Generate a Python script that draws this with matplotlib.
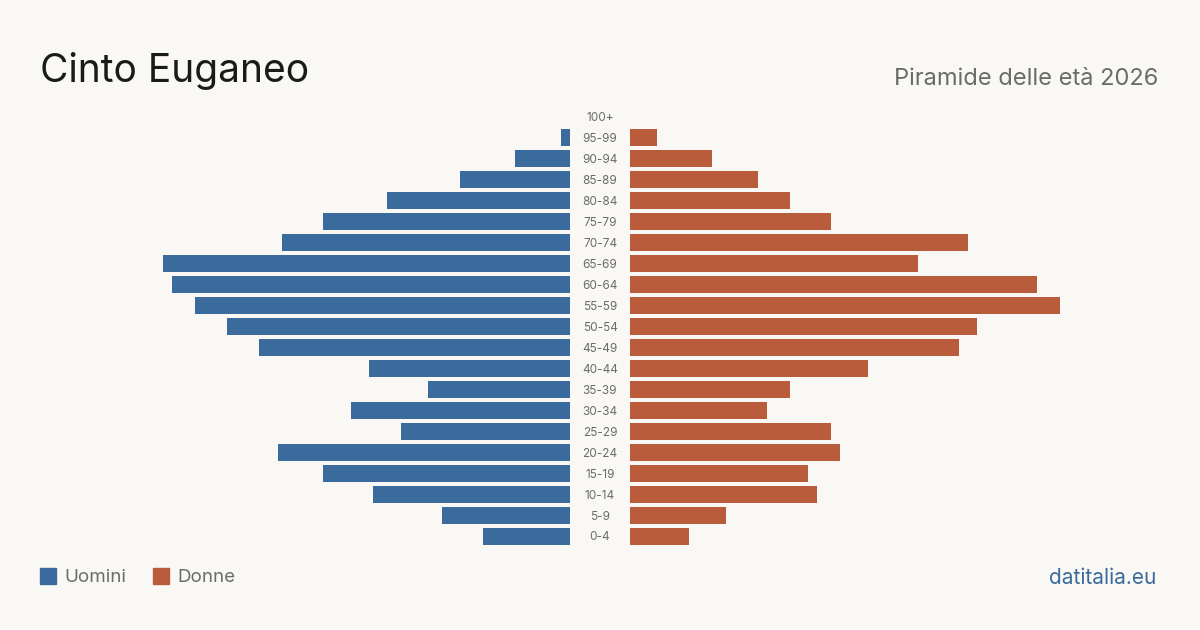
import matplotlib.pyplot as plt
from matplotlib.patches import Rectangle

# age groups, from youngest to oldest
ages = ["0-4", "5-9", "10-14", "15-19", "20-24", "25-29", "30-34", "35-39",
        "40-44", "45-49", "50-54", "55-59", "60-64", "65-69", "70-74",
        "75-79", "80-84", "85-89", "90-94", "95-99", "100+"]
uomini = [19, 28, 43, 54, 64, 37, 48, 31, 44, 68, 75, 82, 87, 89, 63, 54, 40, 24, 12, 2, 0]
donne = [13, 21, 41, 39, 46, 44, 30, 35, 52, 72, 76, 94, 89, 63, 74, 44, 35, 28, 18, 6, 0]

BG = "#f9f8f4"
BLUE = "#3a6b9c"
RED = "#b95c3c"
GREY = "#6b6b6b"

plt.rcParams['font.family'] = ['Inter', 'DejaVu Sans']

W, H = 1200, 630
fig = plt.figure(figsize=(12, 6.3), dpi=100, facecolor=BG)

px = 4.57  # pixels per person
y_bot = 1 - 546.5 / H
y_h = 440.5 / H
span = 440

axl = fig.add_axes([(570 - span) / W, y_bot, span / W, y_h])
axr = fig.add_axes([630 / W, y_bot, span / W, y_h])

pos = list(range(len(ages)))
axl.barh(pos, uomini, height=0.81, color=BLUE)
axr.barh(pos, donne, height=0.81, color=RED)
axl.set_xlim(span / px, 0)
axr.set_xlim(0, span / px)

for ax in (axl, axr):
    ax.set_ylim(-0.5, len(ages) - 0.5)
    ax.set_facecolor("none")
    ax.set_axis_off()

for i, a in enumerate(ages):
    fig.text(600 / W, 1 - (537.5 - i * 20.975) / H, a, ha="center", va="center",
             fontsize=8.5, color=GREY)

fig.text(40 / W, 1 - 82 / H, "Cinto Euganeo", fontsize=28, color="#1a1a1a",
         ha="left", va="baseline")
fig.text(1158 / W, 1 - 85 / H, "Piramide delle età 2026", fontsize=17,
         color=GREY, ha="right", va="baseline")

# legend
fig.patches.append(Rectangle((40 / W, 1 - 584 / H), 16 / W, 16 / H,
                             transform=fig.transFigure, color=BLUE))
fig.text(64 / W, 1 - 578 / H, "Uomini", fontsize=13.5, color=GREY, va="center")
fig.patches.append(Rectangle((153 / W, 1 - 584 / H), 16 / W, 16 / H,
                             transform=fig.transFigure, color=RED))
fig.text(177 / W, 1 - 578 / H, "Donne", fontsize=13.5, color=GREY, va="center")

fig.text(1156 / W, 1 - 578 / H, "datitalia.eu", fontsize=15, color=BLUE,
         ha="right", va="center")

fig.savefig("out.png", dpi=100, facecolor=BG)
